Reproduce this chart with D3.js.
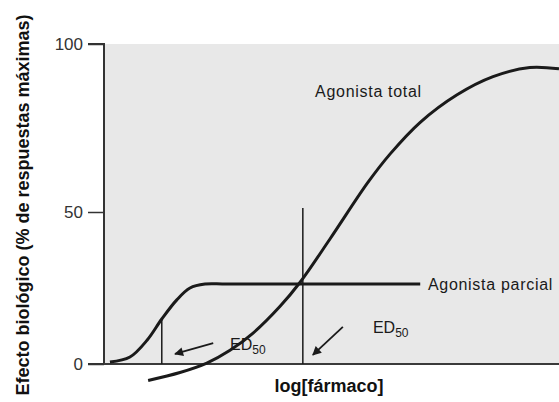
<!DOCTYPE html>
<html>
<head>
<meta charset="utf-8">
<script src="https://cdnjs.cloudflare.com/ajax/libs/d3/7.8.5/d3.min.js"></script>
<style>
  body { margin: 0; background: #fff; }
  svg { display: block; font-family: Arial, "Liberation Sans", sans-serif; }
</style>
</head>
<body>
<script>
// log dose (arbitrary units) and effect (% of max response)
var partialX = [0.13, 0.57, 0.95, 1.27, 1.60, 1.89, 2.22, 2.7, 6.95];
var partialY = [0.66, 2.3, 7.9, 14.8, 21.1, 25.0, 26.3, 26.3, 26.3];
var totalX = [0.97, 1.67, 2.26, 2.77, 3.27, 3.87, 4.31, 4.97, 5.80, 6.29, 6.95, 7.76, 8.55, 9.36, 10];
var totalY = [-5.4, -2.8, 0.3, 4.5, 10.1, 19.0, 26.9, 41.2, 58.8, 67.3, 76.7, 84.9, 90.3, 93.0, 92.6];
var ed50X = [1.27, 4.37];
var ed50Y = [14.8, 51.2];
var yTicks = [0, 50, 100];

var width = 559, height = 402;

var x = d3.scaleLinear().domain([0, 10]).range([104, 559]);
// the printed axis is not quite linear, so map 0/50/100 to where the ticks sit
var y = d3.scaleLinear().domain([0, 50, 100]).range([364, 212, 44]);

var svg = d3.select("body").append("svg")
  .attr("width", width)
  .attr("height", height);

svg.append("defs").append("marker")
  .attr("id", "head")
  .attr("viewBox", "0 0 10 10")
  .attr("refX", 9).attr("refY", 5)
  .attr("markerWidth", 11).attr("markerHeight", 9)
  .attr("markerUnits", "userSpaceOnUse")
  .attr("orient", "auto")
  .append("path")
  .attr("d", "M0,0 L10,5 L0,10 z")
  .attr("fill", "#1a1a1a");

// grey plot area
svg.append("rect")
  .attr("x", x(0))
  .attr("y", y(100))
  .attr("width", x(10) - x(0))
  .attr("height", y(0) - y(100))
  .attr("fill", "#e8e8e8");

// y axis
var yAxis = d3.axisLeft(y).tickValues(yTicks).tickSize(16).tickPadding(5);
var ya = svg.append("g")
  .attr("transform", "translate(" + x(0) + ",0)")
  .call(yAxis);
ya.select(".domain").attr("d", "M-16," + y(100) + "H0V" + y(0) + "H-16")
  .attr("stroke", "#333").attr("stroke-width", 2);
ya.selectAll(".tick line").attr("stroke", "#333").attr("stroke-width", 1.5);
ya.selectAll(".tick text")
  .attr("font-size", 17)
  .attr("font-family", "Arial, 'Liberation Sans', sans-serif")
  .attr("fill", "#333");

// x axis line
svg.append("line")
  .attr("x1", x(0)).attr("x2", x(10))
  .attr("y1", y(0)).attr("y2", y(0))
  .attr("stroke", "#3a3a3a").attr("stroke-width", 2);

// ED50 verticals
ed50X.forEach(function(d, i) {
  svg.append("line")
    .attr("x1", x(d)).attr("x2", x(d))
    .attr("y1", y(0)).attr("y2", y(ed50Y[i]))
    .attr("stroke", "#1a1a1a").attr("stroke-width", 1.5);
});

var line = d3.line()
  .x(function(d) { return x(d[0]); })
  .y(function(d) { return y(d[1]); })
  .curve(d3.curveCatmullRom.alpha(0.5));

svg.append("path")
  .datum(d3.zip(partialX, partialY))
  .attr("d", line)
  .attr("fill", "none")
  .attr("stroke", "#1a1a1a")
  .attr("stroke-width", 3);

svg.append("path")
  .datum(d3.zip(totalX, totalY))
  .attr("d", line)
  .attr("fill", "none")
  .attr("stroke", "#1a1a1a")
  .attr("stroke-width", 3);

// arrows pointing at the ED50 lines
var arrows = [[[2.40, 6.9], [1.56, 3.3]], [[5.25, 12.2], [4.59, 3.0]]];
arrows.forEach(function(a) {
  svg.append("line")
    .attr("x1", x(a[0][0])).attr("y1", y(a[0][1]))
    .attr("x2", x(a[1][0])).attr("y2", y(a[1][1]))
    .attr("stroke", "#1a1a1a").attr("stroke-width", 1.8)
    .attr("marker-end", "url(#head)");
});

// labels
function ed50(px, py) {
  var t = svg.append("text")
    .attr("x", x(px)).attr("y", y(py))
    .attr("font-size", 16).attr("fill", "#1a1a1a");
  t.append("tspan").text("ED");
  t.append("tspan").attr("font-size", 12).attr("dy", 4).text("50");
}
ed50(2.77, 4.6);
ed50(5.91, 10.2);

svg.append("text")
  .attr("x", x(4.64)).attr("y", y(84.2))
  .attr("font-size", 16).attr("letter-spacing", 0.7)
  .attr("fill", "#1a1a1a")
  .text("Agonista total");

svg.append("text")
  .attr("x", x(7.12)).attr("y", y(24.3))
  .attr("font-size", 16).attr("letter-spacing", 0.7)
  .attr("fill", "#1a1a1a")
  .text("Agonista parcial");

svg.append("text")
  .attr("x", 329).attr("y", 392)
  .attr("text-anchor", "middle")
  .attr("font-size", 18).attr("font-weight", "bold")
  .attr("fill", "#111")
  .text("log[fármaco]");

svg.append("text")
  .attr("transform", "translate(29,205) rotate(-90)")
  .attr("text-anchor", "middle")
  .attr("font-size", 18).attr("font-weight", "bold")
  .attr("fill", "#111")
  .text("Efecto biológico (% de respuestas máximas)");
</script>
</body>
</html>
